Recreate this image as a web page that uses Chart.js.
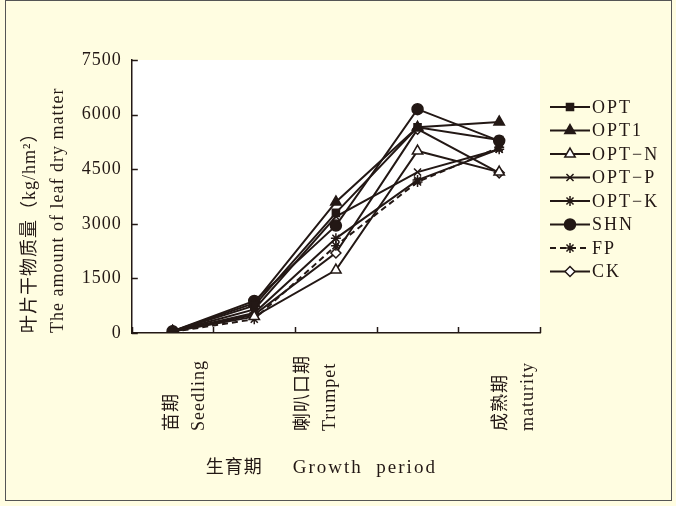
<!DOCTYPE html>
<html><head><meta charset="utf-8">
<script src="https://cdn.jsdelivr.net/npm/chart.js@4/dist/chart.umd.min.js"></script>
<style>html,body{margin:0;padding:0;background:#FFFDE1;}#wrap{width:676px;height:506px;position:relative;}</style>
</head><body><div id="wrap"><canvas id="c" width="676" height="506"></canvas></div>
<script>
// ---- data ----
const categories = [['苗期','Seedling'], '', ['喇叭口期','Trumpet'], '', ['成熟期','maturity']];
const seriesNames = ['OPT','OPT1','OPT−N','OPT−P','OPT−K','SHN','FP','CK'];
const OPT   = [50, 750, 3300, 5650, 5300];
const OPT1  = [50, 820, 3600, 5650, 5800];
const OPT_N = [40, 450, 1730, 5000, 4420];
const OPT_P = [40, 650, 3200, 4420, 5050];
const OPT_K = [40, 550, 2600, 4200, 5050];
const SHN   = [50, 880, 2950, 6150, 5280];
const FP    = [30, 380, 2400, 4150, 5100];
const CK    = [40, 500, 2200, 5600, 4400];
const yTickValues = [0, 1500, 3000, 4500, 6000, 7500];
const yTitle = ['叶片干物质量（kg/hm²）', 'The amount of leaf dry matter'];
const xTitleCN = '生育期';
const xTitleEN = 'Growth  period';

// ---- styles ----
const INK = '#231815';
const BG = '#FFFDE1';
const FONT = '"Liberation Serif", "Noto Sans CJK SC", serif';
const seriesValues = [OPT, OPT1, OPT_N, OPT_P, OPT_K, SHN, FP, CK];
const markers = [
  {style:'rect', r:5, fill:INK},
  {style:'triangle', r:6, fill:INK},
  {style:'triangle', r:6, fill:'#ffffff'},
  {style:'crossRot', r:5, fill:INK},
  {style:'star', r:5, fill:INK},
  {style:'circle', r:5.5, fill:INK},
  {style:'star', r:5, fill:INK},
  {style:'rectRot', r:5, fill:'#ffffff'}
];
const dashes = [[],[],[],[],[],[],[6,4],[]];
const labelShift = [13.5, 0, -19.5, 0, 15.5];

const datasets = seriesNames.map((n, i) => ({
  label: n,
  data: seriesValues[i],
  borderColor: INK,
  backgroundColor: markers[i].fill,
  borderWidth: 2,
  borderDash: dashes[i],
  pointStyle: markers[i].style,
  pointRadius: markers[i].r,
  pointBorderWidth: 1.5,
  pointBorderColor: INK,
  pointBackgroundColor: markers[i].fill,
  tension: 0,
  fill: false
}));

const decor = {
  id: 'decor',
  beforeUpdate(chart) { chart.ctx.letterSpacing = '1px'; },
  beforeDraw(chart) {
    const {ctx, chartArea: a} = chart;
    ctx.letterSpacing = '1px';
    ctx.save();
    ctx.fillStyle = BG;
    ctx.fillRect(0, 0, chart.width, chart.height);
    ctx.fillStyle = '#ffffff';
    ctx.fillRect(a.left, a.top, a.right - a.left, a.bottom - a.top);
    ctx.restore();
  },
  afterDraw(chart) {
    const {ctx, chartArea: a, scales} = chart;
    const xs = scales.x, ys = scales.y;
    ctx.save();
    ctx.strokeStyle = INK;
    ctx.lineWidth = 1.5;
    yTickValues.forEach(v => {
      const y = Math.round(ys.getPixelForValue(v)) + 0.5;
      ctx.beginPath(); ctx.moveTo(a.left, y); ctx.lineTo(a.left + 6, y); ctx.stroke();
    });
    const n = categories.length;
    for (let i = 0; i <= n; i++) {
      let x;
      if (i === 0) x = a.left; else if (i === n) x = a.right;
      else x = (xs.getPixelForValue(i - 1) + xs.getPixelForValue(i)) / 2;
      x = Math.round(x) + 0.5;
      ctx.beginPath(); ctx.moveTo(x, a.bottom); ctx.lineTo(x, a.bottom - 6); ctx.stroke();
    }
    ctx.fillStyle = INK;
    ctx.font = '18px ' + FONT;
    ctx.letterSpacing = '1px';
    ctx.textBaseline = 'middle';
    ctx.textAlign = 'left';
    categories.forEach((lab, i) => {
      if (!Array.isArray(lab)) return;
      const x = xs.getPixelForValue(i) + labelShift[i];
      ctx.save();
      ctx.translate(x, a.bottom + 98);
      ctx.rotate(-Math.PI / 2);
      ctx.fillText(lab[0], 0, -13.5);
      ctx.fillText(lab[1], 0, 13.5);
      ctx.restore();
    });
    ctx.textAlign = 'left';
    ctx.fillText(xTitleCN, a.left + 74, a.bottom + 135);
    ctx.font = '19px ' + FONT;
    ctx.letterSpacing = '2px';
    ctx.fillText(xTitleEN, a.left + 161, a.bottom + 135);
    ctx.font = '18px ' + FONT;
    ctx.letterSpacing = '2px';
    const lx0 = a.right + 10, lx1 = a.right + 50, ly0 = a.top + 47, step = 23.5;
    seriesNames.forEach((name, i) => {
      const y = ly0 + i * step;
      ctx.save();
      ctx.strokeStyle = INK; ctx.lineWidth = 2;
      ctx.setLineDash(dashes[i]);
      ctx.beginPath(); ctx.moveTo(lx0, y); ctx.lineTo(lx1, y); ctx.stroke();
      ctx.setLineDash([]);
      ctx.lineWidth = 1.5;
      ctx.fillStyle = markers[i].fill;
      Chart.helpers.drawPoint(ctx, {pointStyle: markers[i].style, radius: markers[i].r, borderWidth: 1.5, rotation: 0}, (lx0 + lx1) / 2, y);
      ctx.restore();
      ctx.fillStyle = INK;
      ctx.fillText(name, lx1 + 2, y + 1);
    });
    ctx.strokeStyle = '#555';
    ctx.lineWidth = 1;
    ctx.strokeRect(5.5, 0.5, chart.width - 10, chart.height - 6);
    ctx.restore();
    ctx.letterSpacing = '1px';
  }
};

new Chart(document.getElementById('c'), {
  type: 'line',
  data: { labels: categories.map((c, i) => 'c' + i), datasets },
  options: {
    responsive: false,
    animation: false,
    devicePixelRatio: 1,
    layout: { padding: { left: 12, right: 136, top: 60, bottom: 173 } },
    plugins: { legend: { display: false }, tooltip: { enabled: false } },
    scales: {
      x: {
        type: 'category',
        offset: true,
        grid: { display: false, drawTicks: false },
        border: { display: true, color: INK, width: 1.5 },
        ticks: { display: false }
      },
      y: {
        min: 0, max: 7500,
        afterBuildTicks: s => { s.ticks = yTickValues.map(v => ({ value: v })); },
        grid: { display: false, drawTicks: false },
        border: { display: true, color: INK, width: 1.5 },
        ticks: { color: INK, padding: 10, font: { family: FONT, size: 18 }, callback: v => String(v) },
        title: {
          display: true, text: yTitle, align: 'start', color: INK,
          font: { family: FONT, size: 18, lineHeight: 1.55 },
          padding: { top: 4, bottom: 0 }
        }
      }
    }
  },
  plugins: [decor]
});
</script></body></html>
